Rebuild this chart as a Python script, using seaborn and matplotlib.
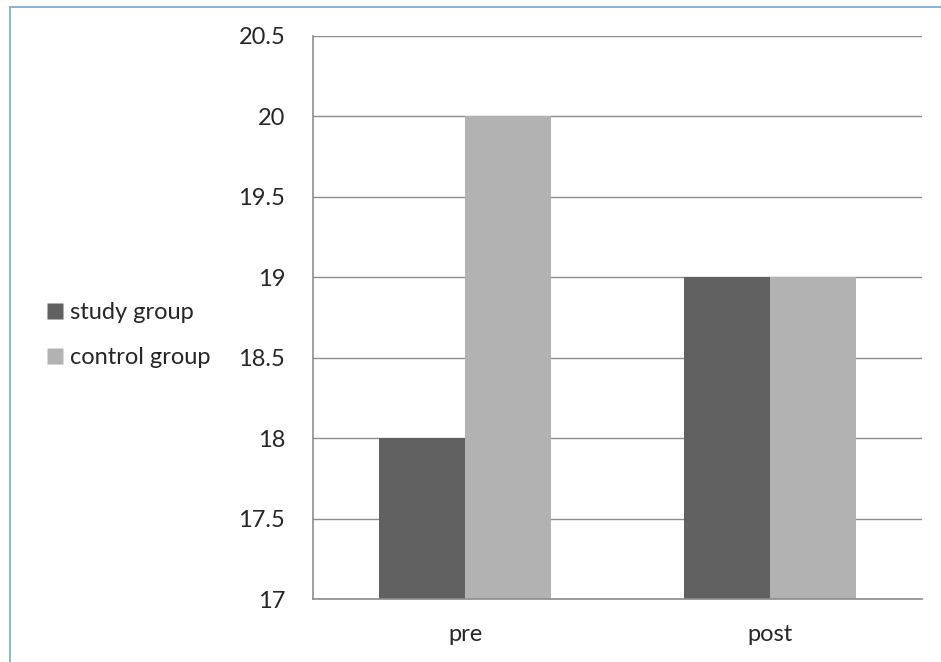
import pandas as pd
import seaborn as sns
import matplotlib.pyplot as plt
from matplotlib.lines import Line2D

periods = ['pre', 'post']
study_group = [18, 19]
control_group = [20, 19]
series_names = ['study group', 'control group']
y_ticks = [17, 17.5, 18, 18.5, 19, 19.5, 20, 20.5]

df = pd.DataFrame({
    'period': periods * 2,
    'value': study_group + control_group,
    'group': [series_names[0]] * 2 + [series_names[1]] * 2,
})

sns.set_style('white')
plt.rcParams['font.family'] = ['Lato', 'DejaVu Sans']

fig = plt.figure(figsize=(9.41, 6.62), dpi=100)
ax = fig.add_axes([313 / 941, 63 / 662, 609 / 941, 563 / 662])

palette = {'study group': '#616161', 'control group': '#b2b2b2'}
sns.barplot(data=df, x='period', y='value', hue='group', palette=palette,
            width=0.564, gap=0, saturation=1, ax=ax, legend=False)
for p in ax.patches:
    p.set_edgecolor('none')

ax.set_ylim(17, 20.5)
ax.set_xlim(-0.5, 1.5)
ax.set_yticks(y_ticks)
ax.set_yticklabels([f'{t:g}' for t in y_ticks])
ax.yaxis.grid(True, color='#8c8c8c', linewidth=1)
ax.set_axisbelow(True)
ax.set_xlabel('')
ax.set_ylabel('')

for side in ['top', 'right']:
    ax.spines[side].set_visible(False)
for side in ['left', 'bottom']:
    ax.spines[side].set_color('#8c8c8c')
    ax.spines[side].set_linewidth(1.2)

ax.tick_params(axis='y', which='major', direction='out', length=6, width=1,
               color='#8c8c8c', pad=14, labelsize=17)
ax.set_xticks([-0.5, 0.5, 1.5], minor=True)
ax.tick_params(axis='x', which='minor', direction='out', length=6, width=1,
               color='#8c8c8c')
ax.tick_params(axis='x', which='major', length=0, pad=18, labelsize=17)

handles = [Line2D([], [], marker='s', linestyle='none', markersize=11,
                  markerfacecolor=palette[n], markeredgecolor='none') for n in series_names]
fig.legend(handles, series_names, loc='center left', bbox_to_anchor=(22 / 941, 1 - 335 / 662),
           frameon=False, fontsize=17, handletextpad=0.15, labelspacing=1.0, handlelength=1)

# light blue frame around the chart area
fig.add_artist(Line2D([10 / 941, 10 / 941], [0, 1 - 7 / 662], color='#6fa8dc', linewidth=1.2))
fig.add_artist(Line2D([10 / 941, 1], [1 - 7 / 662, 1 - 7 / 662], color='#6fa8dc', linewidth=1.2))

fig.savefig('out.png', dpi=100)
